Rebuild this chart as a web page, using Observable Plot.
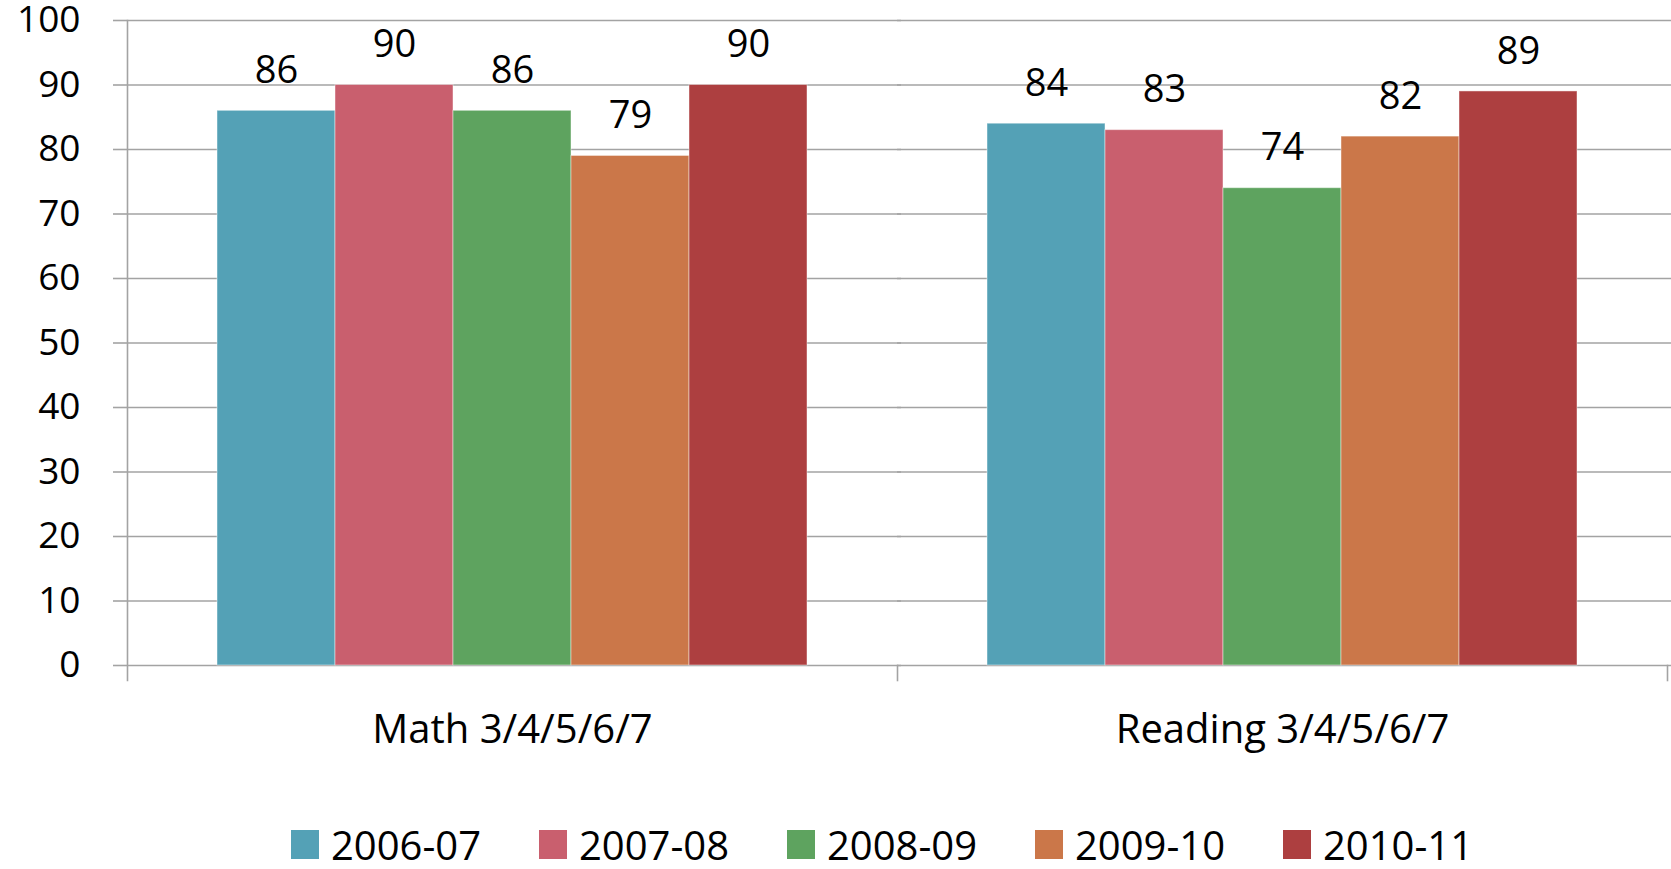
<!DOCTYPE html>
<html>
<head>
<meta charset="utf-8">
<script src="https://cdn.jsdelivr.net/npm/d3@7"></script>
<script src="https://cdn.jsdelivr.net/npm/@observablehq/plot@0.6"></script>
<style>
  html, body { margin: 0; padding: 0; background: #fff; }
  body { width: 1671px; height: 869px; overflow: hidden; font-family: "Open Sans", sans-serif; }
  #legend { display: flex; align-items: center; padding-left: 291px; padding-top: 30px; height: 29px; }
  .item { display: flex; align-items: center; width: 248px; font-size: 40px; line-height: 29px; color: #000; }
  .sw { width: 28px; height: 29px; margin-right: 12px; flex: none; }
</style>
</head>
<body>
<div id="chart"></div>
<div id="legend"></div>
<script>
const categories = ["Math 3/4/5/6/7", "Reading 3/4/5/6/7"];
const years = ["2006-07", "2007-08", "2008-09", "2009-10", "2010-11"];
const mathValues = [86, 90, 86, 79, 90];
const readingValues = [84, 83, 74, 82, 89];
const colors = ["#54a1b6", "#c95f6e", "#5ea35f", "#cb7749", "#ad3f40"];
const yTicks = [0, 10, 20, 30, 40, 50, 60, 70, 80, 90, 100];

const seriesByCat = [mathValues, readingValues];
const rows = categories.flatMap((c, i) => years.map((y, j) => ({cat: c, year: y, value: seriesByCat[i][j]})));

const grid = "#a3a3a3";

const plot = Plot.plot({
  width: 1671,
  height: 800,
  marginLeft: 127,
  marginRight: 4,
  marginTop: 20,
  marginBottom: 135,
  style: {fontFamily: "Open Sans", fontSize: "38px", color: "#000", background: "#fff", overflow: "visible"},
  fx: {domain: categories, padding: 0},
  x: {domain: years, paddingInner: 0, paddingOuter: 0.7545, axis: null},
  y: {domain: [0, 100], axis: null},
  color: {domain: years, range: colors},
  marks: [
    Plot.ruleY(yTicks, {y: d => d, stroke: grid, strokeWidth: 1.6, insetRight: -4}),
    Plot.barY(rows, {fx: "cat", x: "year", y: "value", fill: "year", stroke: "#fff", strokeOpacity: 0.45, strokeWidth: 1}),
    Plot.text(rows, {fx: "cat", x: "year", y: "value", text: d => String(d.value), dy: -40, fontSize: 38, fill: "#000"}),
    Plot.frame({anchor: "left", facetAnchor: "left", stroke: grid, strokeWidth: 1.6, insetBottom: -15}),
    Plot.frame({anchor: "right", stroke: grid, strokeWidth: 1.6, insetTop: 645, insetBottom: -15}),
    Plot.axisY(yTicks, {anchor: "left", tickSize: 14, tickPadding: 33, stroke: grid, strokeWidth: 1.6, fontSize: 37, label: null, tickFormat: d => String(d)}),
    Plot.axisFx({anchor: "bottom", tickSize: 0, tickPadding: 49, fontSize: 40, label: null})
  ]
});
document.getElementById("chart").appendChild(plot);

const legend = document.getElementById("legend");
years.forEach((y, i) => {
  const item = document.createElement("div");
  item.className = "item";
  const sw = document.createElement("div");
  sw.className = "sw";
  sw.style.background = colors[i];
  const t = document.createElement("span");
  t.textContent = y;
  item.appendChild(sw);
  item.appendChild(t);
  legend.appendChild(item);
});
</script>
</body>
</html>
